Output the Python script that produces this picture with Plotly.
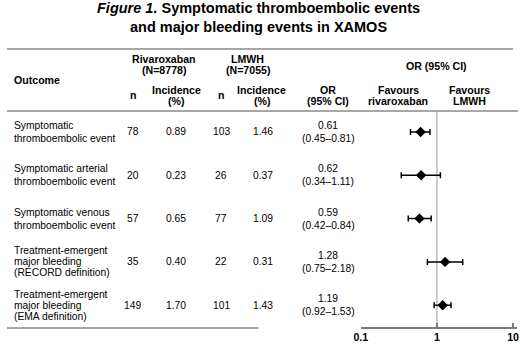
import plotly.graph_objects as go

W, H = 520, 344

outcomes = [
    ["Symptomatic", "thromboembolic event"],
    ["Symptomatic arterial", "thromboembolic event"],
    ["Symptomatic venous", "thromboembolic event"],
    ["Treatment-emergent", "major bleeding", "(RECORD definition)"],
    ["Treatment-emergent", "major bleeding", "(EMA definition)"],
]
riva_n = [78, 20, 57, 35, 149]
riva_inc = ["0.89", "0.23", "0.65", "0.40", "1.70"]
lmwh_n = [103, 26, 77, 22, 101]
lmwh_inc = ["1.46", "0.37", "1.09", "0.31", "1.43"]
or_val = [0.61, 0.62, 0.59, 1.28, 1.19]
ci_low = [0.45, 0.34, 0.42, 0.75, 0.92]
ci_high = [0.81, 1.11, 0.84, 2.18, 1.53]
tick_vals = [0.1, 1, 10]
tick_text = ["0.1", "1", "10"]

FONT = "Arial, Liberation Sans, sans-serif"
REG = 10.3
BOLD = 10.6
rows = list(range(len(outcomes)))

def px(x):
    return x / W

def py(y):
    return 1 - y / H

fig = go.Figure()
fig.add_trace(go.Scatter(
    x=or_val, y=rows, mode="markers",
    marker=dict(symbol="diamond", size=8, color="black"),
    error_x=dict(type="data", symmetric=False,
                 array=[h - o for h, o in zip(ci_high, or_val)],
                 arrayminus=[o - l for o, l in zip(or_val, ci_low)],
                 color="black", thickness=1.5, width=3),
    showlegend=False, hoverinfo="skip"))

ann = []
def add(text, x, y, yref="paper", size=REG, bold=False, align="center", xanchor="center", yshift=0):
    t = f"<b>{text}</b>" if bold else text
    ann.append(dict(text=t, x=x, y=y, xref="paper", yref=yref, showarrow=False,
                    font=dict(family=FONT, size=size, color="black"),
                    xanchor=xanchor, yanchor="middle", align=align, yshift=yshift))

# title
add("<i>Figure 1.</i> Symptomatic thromboembolic events<br>and major bleeding events in XAMOS",
    px(256), py(18), size=14.5, bold=True)

# headers
add("Rivaroxaban", px(160), py(59), size=BOLD, bold=True)
add("(N=8778)", px(160), py(70), size=BOLD, bold=True)
add("LMWH", px(245), py(59), size=BOLD, bold=True)
add("(N=7055)", px(245), py(70), size=BOLD, bold=True)
add("OR (95% CI)", px(437), py(66), size=BOLD, bold=True)
add("Outcome", px(5), py(80), size=BOLD, bold=True, xanchor="left")
for cx in (128, 218):
    add("n", px(cx), py(95.5), size=BOLD, bold=True)
for cx in (172, 259):
    add("Incidence", px(cx), py(90), size=BOLD, bold=True)
    add("(%)", px(cx), py(101), size=BOLD, bold=True)
add("OR", px(327), py(90), size=BOLD, bold=True)
add("(95% CI)", px(327), py(101), size=BOLD, bold=True)
add("Favours", px(398), py(90), size=BOLD, bold=True)
add("rivaroxaban", px(398), py(101), size=BOLD, bold=True)
add("Favours", px(471), py(90), size=BOLD, bold=True)
add("LMWH", px(471), py(101), size=BOLD, bold=True)

# rows
for i in rows:
    lines = outcomes[i]
    sp = 13 if len(lines) == 2 else 11
    n = len(lines)
    for k, line in enumerate(lines):
        add(line, px(5), i, yref="y", xanchor="left", yshift=((n - 1) / 2 - k) * sp)
    add(str(riva_n[i]), px(128), i, yref="y")
    add(riva_inc[i], px(172), i, yref="y")
    add(str(lmwh_n[i]), px(218), i, yref="y")
    add(lmwh_inc[i], px(261), i, yref="y")
    add(f"{or_val[i]:.2f}", px(327), i, yref="y", yshift=6.5)
    add(f"({ci_low[i]:.2f}\u2013{ci_high[i]:.2f})", px(327), i, yref="y", yshift=-6.5)

shapes = [
    dict(type="line", xref="paper", yref="paper", x0=0, x1=px(515), y0=py(49), y1=py(49),
         line=dict(color="#8a8a8a", width=1.5)),
    dict(type="line", xref="paper", yref="paper", x0=0, x1=1, y0=py(111), y1=py(111),
         line=dict(color="#8a8a8a", width=1.5)),
    dict(type="line", xref="paper", yref="paper", x0=0, x1=px(256), y0=py(328), y1=py(328),
         line=dict(color="#8a8a8a", width=1.5)),
    dict(type="line", xref="x", yref="paper", x0=1, x1=1, y0=py(327), y1=py(112),
         line=dict(color="#9a9a9a", width=1), layer="below"),
]

y_top_px, y_bot_px = 113, 327
c0, step = 132, 43.3
x_left_px, decade_px = 360, 77.5
x_right_px = 519
fig.update_layout(
    width=W, height=H, margin=dict(l=0, r=0, t=0, b=0),
    paper_bgcolor="white", plot_bgcolor="white",
    annotations=ann, shapes=shapes,
    xaxis=dict(type="log", range=[-1, -1 + (x_right_px - x_left_px) / decade_px],
               domain=[px(x_left_px), px(x_right_px)],
               tickvals=tick_vals, ticktext=[f"<b>{t}</b>" for t in tick_text],
               tickfont=dict(family=FONT, size=BOLD, color="black"),
               ticklabeloverflow="allow",
               showline=True, linecolor="#7a7a7a", linewidth=1.5,
               ticks="inside", ticklen=4, tickcolor="#7a7a7a", tickwidth=1.5,
               showgrid=False, zeroline=False, fixedrange=True),
    yaxis=dict(range=[(y_bot_px - c0) / step, (y_top_px - c0) / step],
               domain=[py(y_bot_px), py(y_top_px)],
               showgrid=False, zeroline=False, showticklabels=False, showline=False,
               fixedrange=True),
)
fig.write_html("out.html", config={"displayModeBar": False},
               post_script="document.body.style.margin='0';document.body.style.overflow='hidden';")
